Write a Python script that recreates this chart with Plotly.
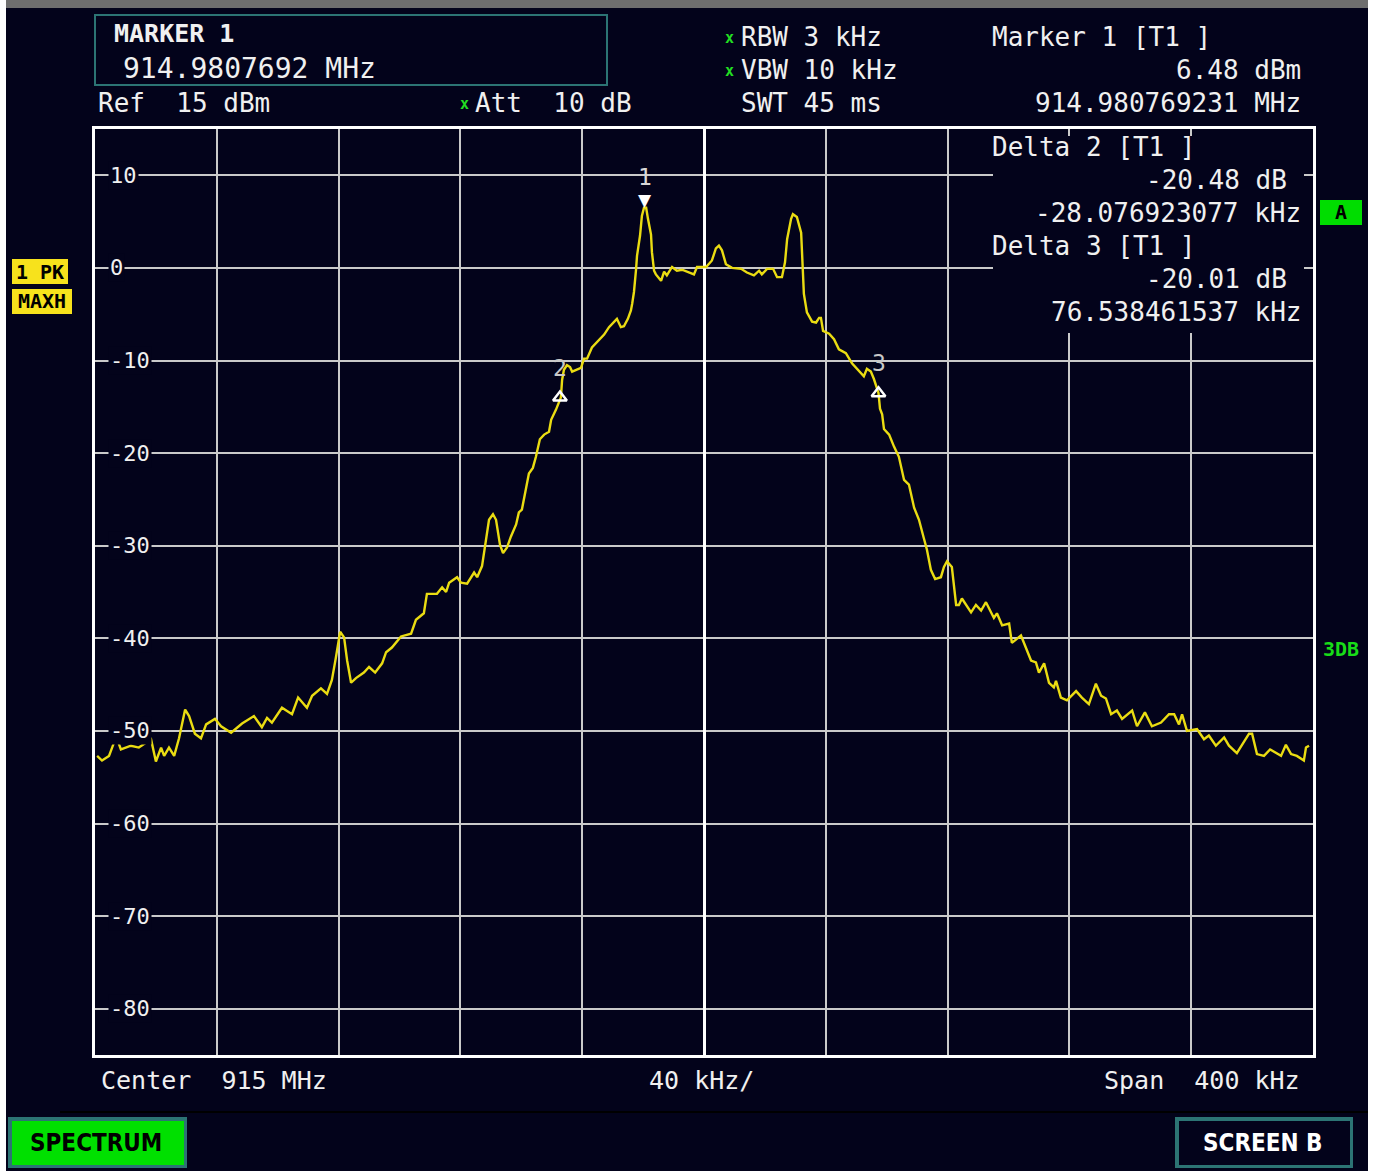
import plotly.graph_objects as go

# ---------------- data ----------------
CENTER_MHZ = 915.0
SPAN_KHZ = 400
REF_DBM = 15
DIV_DB = 10

# trace: frequency offset from center (kHz) and level (dBm)
FREQ_KHZ = [
    -199.3, -197.7, -195.4, -193.8, -192.8, -191.5, -188.2, -185.6, -181.6, -180.0,
    -178.3, -177.3, -175.7, -174.0, -172.4, -170.4, -169.1, -167.2, -165.2, -163.5,
    -160.6, -158.6, -155.3, -151.7, -147.8, -145.2, -143.5, -141.9, -138.6, -135.3,
    -133.3, -130.4, -128.7, -125.8, -123.8, -122.2, -120.9, -119.5, -118.2, -117.2,
    -115.9, -114.3, -111.7, -110.0, -108.0, -105.7, -104.4, -102.5, -99.5, -96.2,
    -94.6, -92.0, -91.0, -87.7, -86.0, -84.7, -83.7, -81.1, -79.8, -77.8,
    -75.5, -74.5, -72.9, -71.6, -70.6, -69.3, -68.3, -67.0, -66.0, -64.7,
    -63.4, -61.7, -60.8, -59.8, -58.5, -57.5, -56.2, -55.2, -53.9, -52.5,
    -50.9, -50.2, -48.6, -47.6, -47.0, -46.6, -46.0, -45.0, -44.0, -43.3,
    -42.0, -40.4, -39.4, -38.4, -36.8, -35.1, -32.8, -31.2, -29.6, -28.6,
    -27.3, -26.3, -25.0, -24.0, -23.6, -23.0, -22.3, -22.0, -21.0, -20.4,
    -19.7, -19.0, -18.4, -17.4, -17.1, -16.4, -15.8, -14.1, -13.1, -12.2,
    -10.5, -8.9, -7.2, -5.6, -3.3, -2.3, 0.7, 2.6, 3.9, 4.9,
    5.9, 7.2, 9.2, 12.2, 14.1, 16.4, 18.1, 19.0, 20.7, 22.7,
    24.0, 25.6, 26.6, 27.3, 28.6, 29.2, 30.5, 31.9, 32.2, 32.8,
    33.8, 35.5, 36.8, 37.8, 38.4, 39.1, 41.1, 42.7, 44.3, 46.6,
    48.6, 50.2, 52.5, 53.5, 54.8, 55.8, 56.5, 57.3, 57.8, 58.5,
    59.1, 60.8, 62.4, 64.0, 65.7, 67.3, 69.0, 70.6, 72.2, 73.2,
    74.5, 75.9, 77.8, 78.8, 79.8, 81.4, 82.8, 83.7, 84.7, 86.4,
    87.7, 89.3, 91.0, 92.6, 94.3, 95.2, 96.2, 97.9, 100.2, 101.1,
    104.1, 105.7, 107.4, 109.0, 110.0, 111.7, 113.3, 114.9, 115.6, 117.2,
    119.2, 122.2, 124.1, 126.4, 128.7, 130.4, 132.0, 133.7, 135.6, 137.3,
    140.6, 142.2, 144.8, 147.1, 150.1, 152.7, 154.4, 156.0, 157.0, 158.6,
    161.9, 164.2, 165.8, 168.1, 170.8, 172.4, 175.0, 179.0, 180.0, 181.6,
    183.9, 185.9, 187.8, 189.5, 191.1, 192.8, 194.7, 197.0, 197.7, 198.7,
]
LEVEL_DBM = [
    -52.7, -53.2, -52.7, -51.3, -50.8, -52.0, -51.6, -51.8, -50.9, -53.3,
    -51.8, -52.7, -51.8, -52.7, -50.8, -47.7, -48.4, -50.3, -50.8, -49.3,
    -48.7, -49.5, -50.2, -49.2, -48.4, -49.6, -48.6, -49.1, -47.5, -48.2,
    -46.4, -47.5, -46.2, -45.4, -46.0, -44.5, -42.1, -39.3, -39.9, -42.4,
    -44.8, -44.3, -43.7, -43.1, -43.7, -42.7, -41.5, -41.0, -39.8, -39.5,
    -38.0, -37.3, -35.2, -35.2, -34.5, -35.0, -34.0, -33.4, -34.0, -34.1,
    -32.9, -33.4, -32.2, -29.3, -27.2, -26.6, -27.2, -29.9, -30.8, -30.2,
    -29.0, -27.7, -26.4, -26.1, -24.1, -22.2, -21.6, -20.4, -18.5, -18.0,
    -17.7, -16.4, -15.3, -14.6, -14.0, -12.1, -11.0, -10.5, -10.7, -11.2,
    -11.0, -10.8, -9.8, -9.8, -8.6, -8.0, -7.2, -6.4, -5.8, -5.5,
    -6.4, -6.3, -5.5, -4.6, -3.9, -2.6, -0.1, 1.3, 3.5, 5.6,
    6.5, 6.5, 5.3, 3.6, 1.7, -0.3, -0.7, -1.4, -0.4, -0.8,
    0.1, -0.3, -0.2, -0.4, -0.7, 0.1, 0.1, 0.8, 2.1, 2.4,
    1.9, 0.4, 0.0, -0.1, -0.5, -0.8, -0.3, -0.7, -0.1, -0.1,
    -1.0, -1.0, 0.6, 3.1, 5.3, 5.8, 5.5, 3.8, 1.3, -2.8,
    -4.8, -5.8, -5.9, -5.4, -5.4, -6.8, -7.1, -7.7, -8.8, -9.2,
    -10.3, -10.9, -11.7, -10.9, -11.2, -12.0, -12.6, -13.5, -15.2, -15.8,
    -17.4, -18.0, -19.3, -20.4, -22.9, -23.4, -25.9, -27.2, -29.2, -30.4,
    -32.6, -33.6, -33.4, -32.3, -31.7, -32.3, -36.4, -36.4, -35.7, -36.6,
    -37.2, -36.4, -37.0, -36.1, -37.3, -37.8, -37.3, -38.6, -38.4, -40.5,
    -39.7, -41.1, -42.4, -42.6, -43.7, -42.7, -44.8, -45.3, -44.6, -46.4,
    -46.7, -45.7, -46.4, -47.1, -44.9, -46.2, -46.5, -48.2, -47.8, -48.7,
    -47.8, -49.5, -48.0, -49.5, -49.1, -48.2, -48.2, -49.3, -48.2, -50.0,
    -49.8, -50.9, -50.5, -51.6, -50.7, -51.6, -52.4, -50.3, -50.3, -52.5,
    -52.7, -52.0, -52.4, -52.7, -51.5, -52.5, -52.7, -53.2, -51.8, -51.6,
]

Y_TICKS = [10, 0, -10, -20, -30, -40, -50, -60, -70, -80]
X_DIV_KHZ = 40

# markers
M1_FREQ_MHZ = 914.980769231
M1_LEVEL = 6.48
DELTA_DB = [-20.48, -20.01]
DELTA_KHZ = [-28.076923077, 76.538461537]

# ---------------- styling / layout helpers ----------------
W, H = 1375, 1171
L, R, T, B = 95, 1313, 129, 1055
BG = "#03031b"
GRID = "#cacaca"
YEL = "#eadc12"
TEAL = "#2c7474"
MONO = "DejaVu Sans Mono, Liberation Mono, monospace"
COND = "DejaVu Sans Condensed, DejaVu Sans, sans-serif"
FS = 26


def px(x):
    return (x - L) / (R - L)


def py(y):
    return (B - y) / (B - T)


ann = []
shapes = []


def txt(x, y, s, size=FS, color="#f0f0f0", anchor="left", bold=False, family=MONO):
    ann.append(dict(x=px(x), y=py(y), xref="paper", yref="paper", text=s, showarrow=False,
                    xanchor=anchor, yanchor="middle",
                    font=dict(family=family, size=size, color=color,
                              weight=("bold" if bold else "normal"))))


def rect(x0, y0, x1, y1, fill=None, line=None, lw=0, layer="above"):
    shapes.append(dict(type="rect", xref="paper", yref="paper",
                       x0=px(x0), x1=px(x1), y0=py(y1), y1=py(y0),
                       fillcolor=fill if fill else "rgba(0,0,0,0)",
                       line=dict(color=line if line else "rgba(0,0,0,0)", width=lw),
                       layer=layer))


fig = go.Figure()
fig.add_trace(go.Scatter(x=FREQ_KHZ, y=LEVEL_DBM, mode="lines",
                         line=dict(color=YEL, width=2.4), hoverinfo="skip"))

# markers
m1_off = (M1_FREQ_MHZ - CENTER_MHZ) * 1000
mk = [(m1_off, M1_LEVEL)] + [(m1_off + dk, M1_LEVEL + dd) for dk, dd in zip(DELTA_KHZ, DELTA_DB)]
fig.add_trace(go.Scatter(x=[m[0] for m in mk[1:]], y=[m[1] for m in mk[1:]], mode="markers",
                         marker=dict(symbol="triangle-up-open", size=12, color="#ffffff",
                                     line=dict(color="#ffffff", width=2.5)),
                         hoverinfo="skip"))

half = SPAN_KHZ / 2
fig.update_xaxes(range=[-half, half], tickvals=[-half + i * X_DIV_KHZ for i in range(11)],
                 showticklabels=False, showgrid=True, gridcolor=GRID, gridwidth=2,
                 zeroline=True, zerolinecolor="#ffffff", zerolinewidth=3,
                 showline=True, mirror=True, linecolor="#ffffff", linewidth=3, ticks="")
fig.update_yaxes(range=[REF_DBM - 10 * DIV_DB, REF_DBM], tickvals=Y_TICKS,
                 showticklabels=False, showgrid=True, gridcolor=GRID, gridwidth=2,
                 zeroline=False, showline=True, mirror=True, linecolor="#ffffff",
                 linewidth=3, ticks="")

# marker info box covering grid at upper right (trace never reaches it)
rect(993, 136, 1304, 333, fill=BG, layer="above")

# y tick labels inside the grid
for v in Y_TICKS:
    ann.append(dict(x=px(108), y=v, xref="paper", yref="y", text=str(v), showarrow=False,
                    xanchor="left", yanchor="middle", bgcolor=BG, borderpad=1,
                    font=dict(family=MONO, size=22, color="#f0f0f0")))

ann.append(dict(x=mk[0][0], y=mk[0][1], xref="x", yref="y", text="▼", showarrow=False,
                yshift=8, font=dict(size=17, color="#ffffff", family="DejaVu Sans")))
for i, (f, lv) in enumerate(mk, start=1):
    ann.append(dict(x=f, y=lv, xref="x", yref="y", text=str(i), showarrow=False,
                    yshift=31 if i == 1 else 30,
                    font=dict(size=23, color="#d8d8d8" if i == 1 else "#c8c8c8", family=MONO)))

# ---------- header ----------
rect(0, 0, W, 8, fill="#6e6e6e")
rect(0, 0, 6, H, fill="#ffffff")
rect(1368, 0, W, H, fill="#ffffff")
rect(95, 15, 607, 85, line=TEAL, lw=2)
txt(112, 33, "MARKER 1", size=25, bold=True)
txt(121, 68, f"{M1_FREQ_MHZ:.7f} MHz", size=28)
txt(96, 103, f"Ref  {REF_DBM} dBm")
STAR = dict(size=15, color="#22dd22", bold=True)
txt(458, 104, "x", **STAR)
txt(473, 103, "Att  10 dB")
txt(723, 38, "x", **STAR)
txt(739, 37, "RBW 3 kHz")
txt(723, 71, "x", **STAR)
txt(739, 70, "VBW 10 kHz")
txt(739, 103, "SWT 45 ms")
txt(990, 37, "Marker 1 [T1 ]")
txt(1303, 70, f"{M1_LEVEL:.2f} dBm", anchor="right")
txt(1303, 103, f"{M1_FREQ_MHZ:.9f} MHz", anchor="right")

# delta marker info
txt(990, 147, "Delta 2 [T1 ]")
txt(1289, 180, f"{DELTA_DB[0]:.2f} dB", anchor="right")
txt(1303, 213, f"{DELTA_KHZ[0]:.9f} kHz", anchor="right")
txt(990, 246, "Delta 3 [T1 ]")
txt(1289, 279, f"{DELTA_DB[1]:.2f} dB", anchor="right")
txt(1303, 312, f"{DELTA_KHZ[1]:.9f} kHz", anchor="right")

# side badges
rect(1320, 200, 1362, 225, fill="#00dd00")
txt(1341, 212, "A", size=20, color="#000000", anchor="center", bold=True)
rect(12, 259, 68, 284, fill="#f7e21c")
txt(40, 272, "1 PK", size=20, color="#000000", anchor="center", bold=True)
rect(12, 289, 72, 314, fill="#f7e21c")
txt(42, 301, "MAXH", size=20, color="#000000", anchor="center", bold=True)
txt(1341, 649, "3DB", size=20, color="#18dd18", anchor="center", bold=True)

# ---------- footer ----------
txt(99, 1080, f"Center  {CENTER_MHZ:g} MHz", size=25)
txt(647, 1080, f"{X_DIV_KHZ} kHz/", size=25)
txt(1302, 1080, f"Span  {SPAN_KHZ} kHz", size=25, anchor="right")
shapes.append(dict(type="line", xref="paper", yref="paper", x0=px(60), x1=px(1368),
                   y0=py(1112), y1=py(1112), line=dict(color="#000000", width=2)))
rect(8, 1117, 187, 1168, fill=TEAL)
rect(12, 1121, 184, 1165, fill="#00e000")
txt(96, 1143, "SPECTRUM", size=24, color="#000000", anchor="center", bold=True, family=COND)
rect(1175, 1117, 1353, 1168, fill=TEAL)
rect(1179, 1121, 1350, 1165, fill=BG)
txt(1263, 1143, "SCREEN B", size=24, color="#ffffff", anchor="center", bold=True, family=COND)

fig.update_layout(width=W, height=H, margin=dict(l=L, r=W - R, t=T, b=H - B),
                  paper_bgcolor=BG, plot_bgcolor=BG, showlegend=False,
                  annotations=ann, shapes=shapes)

fig.write_html("out.html", config={"displayModeBar": False},
               post_script="document.body.style.margin='0';document.body.style.padding='0';"
                           "document.body.style.overflow='hidden';")
